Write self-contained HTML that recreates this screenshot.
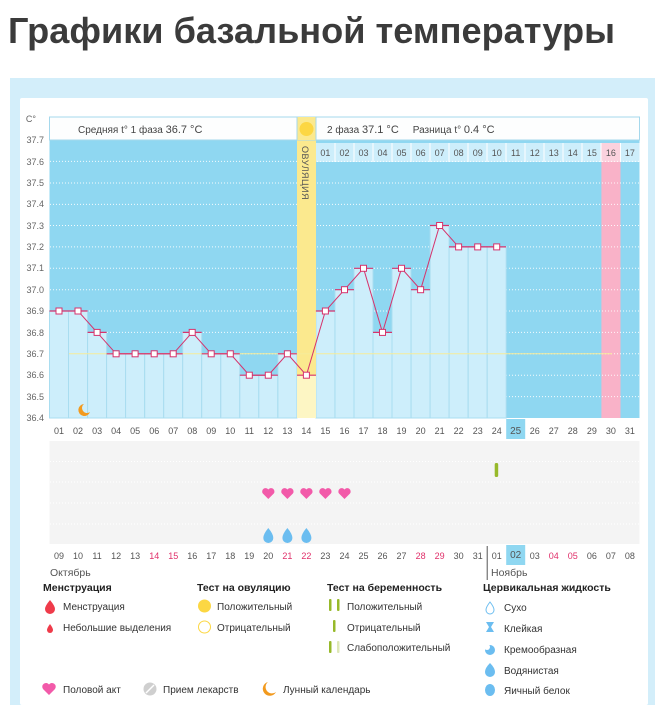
<!DOCTYPE html>
<html><head><meta charset="utf-8"><style>
html,body{margin:0;padding:0;background:#fff;width:655px;height:705px;overflow:hidden}
svg{display:block;font-family:"Liberation Sans","DejaVu Sans",sans-serif}
</style></head><body>
<svg width="655" height="705" viewBox="0 0 655 705" xmlns="http://www.w3.org/2000/svg">
<text x="8" y="43" font-size="36" font-weight="bold" fill="#3b3b3b" textLength="607" lengthAdjust="spacingAndGlyphs">Графики базальной температуры</text>
<rect x="10" y="78" width="645" height="627" fill="#d3eefa"/>
<rect x="20" y="98" width="628" height="607" fill="#fff" rx="2"/>
<rect x="49.5" y="140" width="590" height="278" fill="#8fd7f1"/>
<rect x="316" y="143" width="323.5" height="19" fill="#cdeefb"/>
<rect x="601.4" y="143" width="19.1" height="275" fill="#f9b2c8"/>
<rect x="601.4" y="143" width="19.1" height="19" fill="#fbd2de"/>
<g stroke="#fff" stroke-width="1"><line x1="335" y1="143" x2="335" y2="162"/><line x1="354" y1="143" x2="354" y2="162"/><line x1="373" y1="143" x2="373" y2="162"/><line x1="392" y1="143" x2="392" y2="162"/><line x1="411" y1="143" x2="411" y2="162"/><line x1="430" y1="143" x2="430" y2="162"/><line x1="449" y1="143" x2="449" y2="162"/><line x1="468" y1="143" x2="468" y2="162"/><line x1="487" y1="143" x2="487" y2="162"/><line x1="506" y1="143" x2="506" y2="162"/><line x1="525" y1="143" x2="525" y2="162"/><line x1="544" y1="143" x2="544" y2="162"/><line x1="563" y1="143" x2="563" y2="162"/><line x1="582" y1="143" x2="582" y2="162"/><line x1="601" y1="143" x2="601" y2="162"/><line x1="620.5" y1="143" x2="620.5" y2="162"/></g>
<g font-size="9" fill="#555" text-anchor="middle">
<text x="325.4" y="156">01</text><text x="344.5" y="156">02</text><text x="363.5" y="156">03</text><text x="382.5" y="156">04</text><text x="401.5" y="156">05</text><text x="420.6" y="156">06</text><text x="439.6" y="156">07</text><text x="458.6" y="156">08</text><text x="477.7" y="156">09</text><text x="496.7" y="156">10</text><text x="515.7" y="156">11</text><text x="534.8" y="156">12</text><text x="553.8" y="156">13</text><text x="572.8" y="156">14</text><text x="591.9" y="156">15</text><text x="610.9" y="156">16</text><text x="629.9" y="156">17</text>
</g>
<g stroke="#fff" stroke-width="1" stroke-dasharray="1,2" opacity="0.9">
<line x1="50" y1="183" x2="640" y2="183"/><line x1="50" y1="204.4" x2="640" y2="204.4"/><line x1="50" y1="225.5" x2="640" y2="225.5"/><line x1="50" y1="246.9" x2="640" y2="246.9"/><line x1="50" y1="268.3" x2="640" y2="268.3"/><line x1="50" y1="289.7" x2="640" y2="289.7"/><line x1="50" y1="311" x2="640" y2="311"/><line x1="50" y1="332.4" x2="640" y2="332.4"/><line x1="50" y1="353.8" x2="640" y2="353.8"/><line x1="50" y1="375.2" x2="640" y2="375.2"/><line x1="50" y1="396.6" x2="640" y2="396.6"/><line x1="50" y1="161.4" x2="640" y2="161.4"/>
</g>
<g fill="#cdeefb" stroke="#a9ddf0" stroke-width="1">
<rect x="49.5" y="311" width="19" height="107"/><rect x="68.5" y="311" width="19" height="107"/><rect x="87.6" y="332.4" width="19" height="85.6"/><rect x="106.6" y="353.8" width="19" height="64.2"/><rect x="125.6" y="353.8" width="19" height="64.2"/><rect x="144.7" y="353.8" width="19" height="64.2"/><rect x="163.7" y="353.8" width="19" height="64.2"/><rect x="182.7" y="332.4" width="19" height="85.6"/><rect x="201.7" y="353.8" width="19" height="64.2"/><rect x="220.8" y="353.8" width="19" height="64.2"/><rect x="239.8" y="375.2" width="19" height="42.8"/><rect x="258.8" y="375.2" width="19" height="42.8"/><rect x="277.9" y="353.8" width="19" height="64.2"/>
<rect x="315.9" y="311" width="19" height="107"/><rect x="335" y="289.7" width="19" height="128.3"/><rect x="354" y="268.3" width="19" height="149.7"/><rect x="373" y="332.4" width="19" height="85.6"/><rect x="392" y="268.3" width="19" height="149.7"/><rect x="411.1" y="289.7" width="19" height="128.3"/><rect x="430.1" y="225.5" width="19" height="192.5"/><rect x="449.1" y="246.9" width="19" height="171.1"/><rect x="468.2" y="246.9" width="19" height="171.1"/><rect x="487.2" y="246.9" width="19" height="171.1"/>
</g>
<rect x="297" y="117" width="19" height="258" fill="#fbe98e"/>
<rect x="297" y="375.2" width="19" height="42.8" fill="#fdf6c4"/>
<text transform="translate(302,146) rotate(90)" font-size="9" fill="#555" letter-spacing="0.5">ОВУЛЯЦИЯ</text>
<rect x="49.5" y="117" width="590" height="23" fill="#fdfefe" stroke="#a5d8ec"/>
<rect x="297" y="117" width="19" height="23" fill="#fbe98e"/>
<line x1="297" y1="117" x2="297" y2="140" stroke="#a5d8ec"/><line x1="316" y1="117" x2="316" y2="140" stroke="#a5d8ec"/>
<circle cx="306.5" cy="129" r="7" fill="#fcd743"/>
<text x="78" y="133" font-size="10" fill="#444">Средняя t° 1 фаза  <tspan font-size="11">36.7 °C</tspan></text>
<text x="327" y="133" font-size="10" fill="#444">2 фаза  <tspan font-size="11">37.1 °C</tspan><tspan dx="14">Разница t°  </tspan><tspan font-size="11">0.4 °C</tspan></text>
<line x1="69" y1="353.8" x2="612" y2="353.8" stroke="#f6ec9a" stroke-width="1"/>
<g stroke="#d6336c" stroke-width="1.2">
<line x1="49.5" y1="311" x2="87.6" y2="311"/><line x1="87.6" y1="332.4" x2="106.6" y2="332.4"/><line x1="106.6" y1="353.8" x2="182.7" y2="353.8"/><line x1="182.7" y1="332.4" x2="201.7" y2="332.4"/><line x1="201.7" y1="353.8" x2="239.8" y2="353.8"/><line x1="239.8" y1="375.2" x2="277.9" y2="375.2"/><line x1="277.9" y1="353.8" x2="296.9" y2="353.8"/><line x1="297" y1="375.2" x2="316" y2="375.2"/><line x1="315.9" y1="311" x2="335" y2="311"/><line x1="335" y1="289.7" x2="354" y2="289.7"/><line x1="354" y1="268.3" x2="373" y2="268.3"/><line x1="373" y1="332.4" x2="392" y2="332.4"/><line x1="392" y1="268.3" x2="411" y2="268.3"/><line x1="411" y1="289.7" x2="430" y2="289.7"/><line x1="430" y1="225.5" x2="449" y2="225.5"/><line x1="449" y1="246.9" x2="506" y2="246.9"/>
</g>
<polyline fill="none" stroke="#d6336c" stroke-width="1" points="59,311 78,311 97.1,332.4 116.1,353.8 135.1,353.8 154.2,353.8 173.2,353.8 192.2,332.4 211.2,353.8 230.3,353.8 249.3,375.2 268.3,375.2 287.4,353.8 306.4,375.2 325.4,311 344.5,289.7 363.5,268.3 382.5,332.4 401.5,268.3 420.6,289.7 439.6,225.5 458.6,246.9 477.7,246.9 496.7,246.9"/>
<g fill="#fff" stroke="#d6336c" stroke-width="1">
<rect x="56" y="308" width="6" height="6"/><rect x="75" y="308" width="6" height="6"/><rect x="94.1" y="329.4" width="6" height="6"/><rect x="113.1" y="350.8" width="6" height="6"/><rect x="132.1" y="350.8" width="6" height="6"/><rect x="151.2" y="350.8" width="6" height="6"/><rect x="170.2" y="350.8" width="6" height="6"/><rect x="189.2" y="329.4" width="6" height="6"/><rect x="208.2" y="350.8" width="6" height="6"/><rect x="227.3" y="350.8" width="6" height="6"/><rect x="246.3" y="372.2" width="6" height="6"/><rect x="265.3" y="372.2" width="6" height="6"/><rect x="284.4" y="350.8" width="6" height="6"/><rect x="303.4" y="372.2" width="6" height="6"/><rect x="322.4" y="308" width="6" height="6"/><rect x="341.5" y="286.7" width="6" height="6"/><rect x="360.5" y="265.3" width="6" height="6"/><rect x="379.5" y="329.4" width="6" height="6"/><rect x="398.5" y="265.3" width="6" height="6"/><rect x="417.6" y="286.7" width="6" height="6"/><rect x="436.6" y="222.5" width="6" height="6"/><rect x="455.6" y="243.9" width="6" height="6"/><rect x="474.7" y="243.9" width="6" height="6"/><rect x="493.7" y="243.9" width="6" height="6"/>
</g>
<path d="M84,404 a6,6 0 1 0 6,8 a5,5 0 1 1 -6,-8z" fill="#f29a1e"/>
<g font-size="9" fill="#666" text-anchor="end">
<text x="36" y="122">C°</text>
<text x="44" y="143">37.7</text><text x="44" y="165">37.6</text><text x="44" y="186">37.5</text><text x="44" y="207">37.4</text><text x="44" y="229">37.3</text><text x="44" y="250">37.2</text><text x="44" y="271">37.1</text><text x="44" y="293">37.0</text><text x="44" y="314">36.9</text><text x="44" y="336">36.8</text><text x="44" y="357">36.7</text><text x="44" y="378">36.6</text><text x="44" y="400">36.5</text><text x="44" y="421">36.4</text>
</g>
<rect x="506.2" y="419" width="19" height="20" fill="#8fd7f1"/>
<g font-size="9" fill="#555" text-anchor="middle">
<text x="59" y="434">01</text><text x="78" y="434">02</text><text x="97.1" y="434">03</text><text x="116.1" y="434">04</text><text x="135.1" y="434">05</text><text x="154.2" y="434">06</text><text x="173.2" y="434">07</text><text x="192.2" y="434">08</text><text x="211.2" y="434">09</text><text x="230.3" y="434">10</text><text x="249.3" y="434">11</text><text x="268.3" y="434">12</text><text x="287.4" y="434">13</text><text x="306.4" y="434">14</text><text x="325.4" y="434">15</text><text x="344.5" y="434">16</text><text x="363.5" y="434">17</text><text x="382.5" y="434">18</text><text x="401.5" y="434">19</text><text x="420.6" y="434">20</text><text x="439.6" y="434">21</text><text x="458.6" y="434">22</text><text x="477.7" y="434">23</text><text x="496.7" y="434">24</text><text x="515.7" y="434" font-size="10">25</text><text x="534.8" y="434">26</text><text x="553.8" y="434">27</text><text x="572.8" y="434">28</text><text x="591.9" y="434">29</text><text x="610.9" y="434">30</text><text x="629.9" y="434">31</text>
</g>
<rect x="49.5" y="441" width="590" height="103" fill="#f4f4f4"/>
<g stroke="#fff" stroke-width="1" stroke-dasharray="1,2">
<line x1="50" y1="461.5" x2="640" y2="461.5"/><line x1="50" y1="482" x2="640" y2="482"/><line x1="50" y1="503" x2="640" y2="503"/><line x1="50" y1="524" x2="640" y2="524"/>
</g>
<rect x="494.7" y="463" width="3.5" height="14" rx="1.5" fill="#97b92a"/>
<g fill="#f25aa9">
<path d="M268.3,499 l-5.5,-5.5 a3,3 0 0 1 5.5,-4 a3,3 0 0 1 5.5,4z"/>
<path d="M287.4,499 l-5.5,-5.5 a3,3 0 0 1 5.5,-4 a3,3 0 0 1 5.5,4z"/>
<path d="M306.4,499 l-5.5,-5.5 a3,3 0 0 1 5.5,-4 a3,3 0 0 1 5.5,4z"/>
<path d="M325.4,499 l-5.5,-5.5 a3,3 0 0 1 5.5,-4 a3,3 0 0 1 5.5,4z"/>
<path d="M344.5,499 l-5.5,-5.5 a3,3 0 0 1 5.5,-4 a3,3 0 0 1 5.5,4z"/>
</g>
<g fill="#6bbdf0">
<path d="M268.3,528 q5,6 5,10 a5,5 0 0 1 -10,0 q0,-4 5,-10z"/>
<path d="M287.4,528 q5,6 5,10 a5,5 0 0 1 -10,0 q0,-4 5,-10z"/>
<path d="M306.4,528 q5,6 5,10 a5,5 0 0 1 -10,0 q0,-4 5,-10z"/>
</g>
<rect x="506.2" y="545" width="19" height="20" fill="#8fd7f1"/>
<line x1="487.2" y1="546" x2="487.2" y2="580" stroke="#555" stroke-width="1"/>
<g font-size="9" fill="#555" text-anchor="middle">
<text x="59" y="559">09</text><text x="78" y="559">10</text><text x="97.1" y="559">11</text><text x="116.1" y="559">12</text><text x="135.1" y="559">13</text><text x="154.2" y="559" fill="#e0306a">14</text><text x="173.2" y="559" fill="#e0306a">15</text><text x="192.2" y="559">16</text><text x="211.2" y="559">17</text><text x="230.3" y="559">18</text><text x="249.3" y="559">19</text><text x="268.3" y="559">20</text><text x="287.4" y="559" fill="#e0306a">21</text><text x="306.4" y="559" fill="#e0306a">22</text><text x="325.4" y="559">23</text><text x="344.5" y="559">24</text><text x="363.5" y="559">25</text><text x="382.5" y="559">26</text><text x="401.5" y="559">27</text><text x="420.6" y="559" fill="#e0306a">28</text><text x="439.6" y="559" fill="#e0306a">29</text><text x="458.6" y="559">30</text><text x="477.7" y="559">31</text><text x="496.7" y="559">01</text><text x="515.7" y="558" font-size="10">02</text><text x="534.8" y="559">03</text><text x="553.8" y="559" fill="#e0306a">04</text><text x="572.8" y="559" fill="#e0306a">05</text><text x="591.9" y="559">06</text><text x="610.9" y="559">07</text><text x="629.9" y="559">08</text>
</g>
<text x="50" y="576" font-size="10.5" fill="#555">Октябрь</text>
<text x="491" y="576" font-size="10.5" fill="#555">Ноябрь</text>
<g font-size="10.5" font-weight="bold" fill="#222">
<text x="43" y="591">Менструация</text><text x="197" y="591">Тест на овуляцию</text><text x="327" y="591">Тест на беременность</text><text x="483" y="591">Цервикальная жидкость</text>
</g>
<g font-size="10" fill="#333">
<path d="M50,600 q5,6 5,9 a5,5 0 0 1 -10,0 q0,-3 5,-9z" fill="#ef3b4a"/>
<text x="63" y="610">Менструация</text>
<path d="M50,624 q3,4 3,6 a3,3 0 0 1 -6,0 q0,-2 3,-6z" fill="#ef3b4a"/>
<text x="63" y="631">Небольшие выделения</text>
<circle cx="204.5" cy="606" r="6.5" fill="#fcd743"/>
<text x="217" y="610">Положительный</text>
<circle cx="204.5" cy="627" r="6" fill="#fff" stroke="#fcd743"/>
<text x="217" y="631">Отрицательный</text>
<rect x="329" y="599" width="2.5" height="12" rx="1" fill="#97b92a"/><rect x="337" y="599" width="2.5" height="12" rx="1" fill="#97b92a"/>
<text x="347" y="610">Положительный</text>
<rect x="333" y="620" width="2.5" height="12" rx="1" fill="#97b92a"/>
<text x="347" y="631">Отрицательный</text>
<rect x="329" y="641" width="2.5" height="12" rx="1" fill="#97b92a"/><rect x="337" y="641" width="2.5" height="12" rx="1" fill="#dfe8b8"/>
<text x="347" y="651">Слабоположительный</text>
<path d="M490,602 q4,5 4,8 a4,4 0 0 1 -8,0 q0,-3 4,-8z" fill="#fff" stroke="#6bbdf0"/>
<text x="504" y="611">Сухо</text>
<path d="M486,622 h8 l-3,5 l3,5 h-8 l3,-5z" fill="#6bbdf0"/>
<text x="504" y="632">Клейкая</text>
<circle cx="490" cy="650" r="5" fill="#6bbdf0"/>
<circle cx="487" cy="647" r="3" fill="#fff"/>
<text x="504" y="653">Кремообразная</text>
<path d="M490,663 q5,5 5,9 a5,5 0 0 1 -10,0 q0,-4 5,-9z" fill="#6bbdf0"/>
<text x="504" y="674">Водянистая</text>
<ellipse cx="490" cy="690" rx="5" ry="6" fill="#6bbdf0"/>
<text x="504" y="694">Яичный белок</text>
<path d="M49,695 l-6,-6 a3.3,3.3 0 0 1 6,-4.5 a3.3,3.3 0 0 1 6,4.5z" fill="#f25aa9"/>
<text x="63" y="693">Половой акт</text>
<circle cx="150" cy="689" r="6.5" fill="#cfcfcf"/><line x1="146" y1="693" x2="154" y2="685" stroke="#fff" stroke-width="1.5"/>
<text x="163" y="693">Прием лекарств</text>
<path d="M268,682 a7,7 0 1 0 8,10 a6,6 0 1 1 -8,-10z" fill="#f29a1e"/>
<text x="283" y="693">Лунный календарь</text>
</g>
</svg>
</body></html>
